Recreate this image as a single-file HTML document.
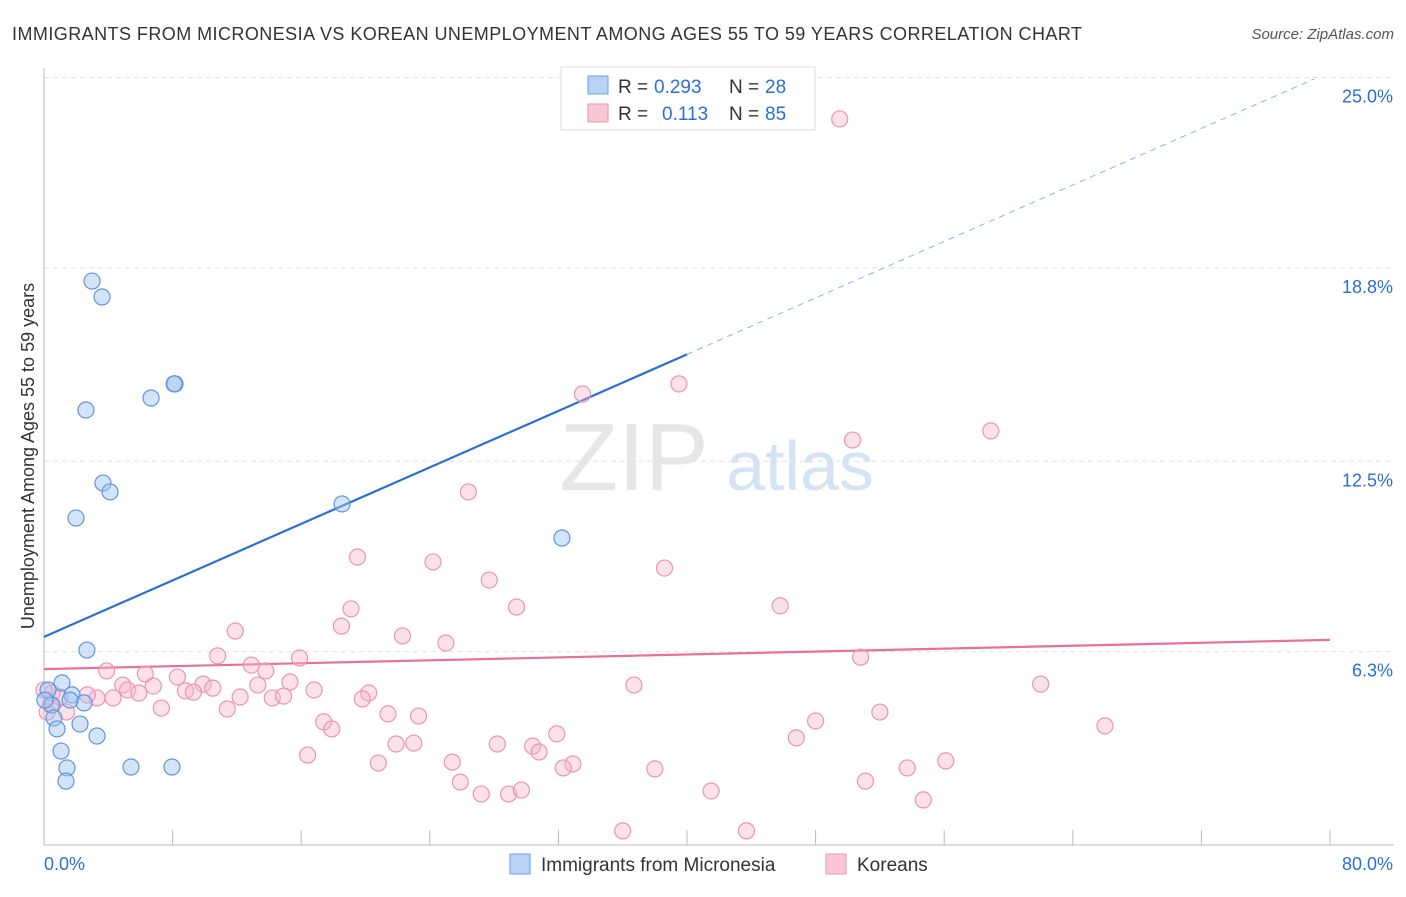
<!DOCTYPE html>
<html><head><meta charset="utf-8"><style>
body{margin:0;background:#fff;font-family:"Liberation Sans",sans-serif}
svg text{font-family:"Liberation Sans",sans-serif}
</style></head><body>
<svg id="chart" width="1406" height="892" xmlns="http://www.w3.org/2000/svg">
<text x="12" y="40" font-size="18" fill="#333" textLength="1070" lengthAdjust="spacing">IMMIGRANTS FROM MICRONESIA VS KOREAN UNEMPLOYMENT AMONG AGES 55 TO 59 YEARS CORRELATION CHART</text>
<text x="1394" y="39" font-size="15" fill="#555" font-style="italic" text-anchor="end">Source: ZipAtlas.com</text>
<text x="634" y="490" font-size="96" fill="#e6e6e6" font-family="Liberation Serif" text-anchor="middle">ZIP</text>
<text x="800" y="490" font-size="70" fill="#d5e3f5" text-anchor="middle">atlas</text>
<text transform="translate(34,456) rotate(-90)" font-size="18" fill="#333" text-anchor="middle">Unemployment Among Ages 55 to 59 years</text>
<g id="grid"></g><g id="axes"></g><g id="lines"></g><g id="pts"></g>
<g>
<rect x="561" y="67" width="254" height="63" fill="#fff" stroke="#ddd"/>
<rect x="588" y="76" width="20" height="18" fill="#b8d3f5" stroke="#6fa0e0"/>
<rect x="588" y="104" width="20" height="18" fill="#f9c6d6" stroke="#e895b3"/>
<text x="618" y="93" font-size="19" fill="#333">R =</text>
<text x="654" y="93" font-size="19" fill="#2a6fd6">0.293</text>
<text x="729" y="93" font-size="19" fill="#333">N =</text>
<text x="765" y="93" font-size="19" fill="#2a6fd6">28</text>
<text x="618" y="120" font-size="19" fill="#333">R =</text>
<text x="662" y="120" font-size="19" fill="#2a6fd6">0.113</text>
<text x="729" y="120" font-size="19" fill="#333">N =</text>
<text x="765" y="120" font-size="19" fill="#2a6fd6">85</text>
</g>
<g>
<rect x="510" y="854" width="20" height="20" fill="#b8d3f5" stroke="#6fa0e0"/>
<text x="541" y="871" font-size="19" fill="#333">Immigrants from Micronesia</text>
<rect x="826" y="854" width="20" height="20" fill="#f9c6d6" stroke="#e895b3"/>
<text x="857" y="871" font-size="19" fill="#333">Koreans</text>
</g>
</svg>
<script>
const blueX=[2.99,3.61,2.61,8.15,8.09,6.66,3.67,4.11,1.99,18.54,32.22,2.67,1.12,0.25,1.74,2.49,0.5,0.62,0.81,2.24,3.3,1.06,1.43,1.37,5.41,7.96,0.06,1.62];
const blueY=[18.37,17.85,14.17,15.02,15.02,14.56,11.79,11.5,10.65,11.11,10.0,6.35,5.28,5.05,4.89,4.63,4.56,4.14,3.78,3.94,3.55,3.06,2.51,2.08,2.54,2.54,4.72,4.72];
const pinkX=[49.5,33.5,39.5,50.3,58.9,26.4,19.5,24.2,38.6,27.7,19.1,29.4,45.8,18.5,11.9,22.3,25.0,10.8,15.9,50.8,3.9,6.3,12.9,13.8,8.3,9.9,10.5,15.3,13.3,4.9,5.2,6.8,8.8,9.3,5.9,36.7,62.0,16.8,20.2,19.8,12.2,14.2,14.9,4.3,3.3,2.7,1.0,0.5,0.4,1.4,7.3,11.4,21.4,23.3,52.0,17.4,17.9,48.0,66.0,31.9,46.8,21.9,23.0,30.4,28.2,30.8,16.4,25.4,20.8,32.9,32.3,38.0,53.7,56.1,25.9,51.1,27.2,28.9,29.7,41.5,54.7,36.0,43.7,0.0,0.2];
const pinkY=[23.65,14.69,15.02,13.19,13.49,11.5,9.38,9.22,9.02,8.63,7.69,7.75,7.79,7.13,6.97,6.81,6.58,6.16,6.09,6.12,5.67,5.57,5.86,5.67,5.47,5.24,5.11,5.31,5.21,5.21,5.05,5.18,5.02,4.98,4.95,5.21,5.24,5.05,4.95,4.76,4.82,4.79,4.85,4.79,4.79,4.89,4.82,4.95,4.56,4.33,4.46,4.43,4.27,4.2,4.33,4.01,3.78,4.04,3.88,3.62,3.49,3.29,3.32,3.22,3.29,3.03,2.93,2.7,2.67,2.64,2.51,2.48,2.51,2.74,2.05,2.08,1.66,1.66,1.79,1.76,1.47,0.46,0.46,5.05,4.33];
const yTicks=[25.0,18.8,12.5,6.3];
const xTicks=[0,8,16,24,32,40,48,56,64,72,80];
const blueTrend=[6.78,0.23];
const pinkTrend=[5.73,0.0119];
const X=v=>44+v*16.075, Y=v=>845-v*30.7;
const NS="http://www.w3.org/2000/svg";
function mk(p,tag,a){const e=document.createElementNS(NS,tag);for(const k in a)e.setAttribute(k,a[k]);document.getElementById(p).appendChild(e);return e;}
yTicks.forEach(t=>{
 const l=mk('grid','line',{x1:44,x2:1394,y1:Y(t),y2:Y(t),stroke:'#e2e2e2','stroke-dasharray':'5,4'});
 
 
 const tx=mk('grid','text',{x:1393,y:Y(t)+25,'font-size':18,fill:'#2a6fd6','text-anchor':'end'});
 tx.textContent=t.toFixed(1)+'%';
 
 
});
const ya=mk('axes','line',{x1:44,x2:44,y1:68,y2:845,stroke:'#bbb'});


const xa=mk('axes','line',{x1:44,x2:1394,y1:845,y2:845,stroke:'#bbb'});


xTicks.forEach(t=>{if(t===0)return;
 const l=mk('axes','line',{x1:X(t),x2:X(t),y1:830,y2:845,stroke:'#bbb'});
 
 
});
[[0,'0.0%','start',44],[80,'80.0%','end',1393]].forEach(d=>{
 const tx=mk('axes','text',{x:d[3],y:870,'font-size':18,fill:'#2a6fd6','text-anchor':d[2]});
 tx.textContent=d[1];
 
 
});
function pts(xs,ys,fill,stroke,name){xs.forEach((x,i)=>{
 const c=mk('pts','circle',{cx:X(x),cy:Y(ys[i]),r:8,fill:fill,stroke:stroke,'stroke-width':1.2});
 
 
});}
pts(pinkX,pinkY,'rgba(248,180,202,0.4)','#e895b3','korean-point');
pts(blueX,blueY,'rgba(160,195,240,0.45)','#5f95dc','micronesia-point');
const b1=mk('lines','line',{x1:X(0),y1:Y(blueTrend[0]),x2:X(40),y2:Y(blueTrend[0]+blueTrend[1]*40),stroke:'#2a6fd6','stroke-width':2.2});


const b2=mk('lines','line',{x1:X(40),y1:Y(blueTrend[0]+blueTrend[1]*40),x2:X(79),y2:Y(blueTrend[0]+blueTrend[1]*79),stroke:'#8fb3e6','stroke-width':1,'stroke-dasharray':'6,5'});


const p1=mk('lines','line',{x1:X(0),y1:Y(pinkTrend[0]),x2:X(80),y2:Y(pinkTrend[0]+pinkTrend[1]*80),stroke:'#e8719b','stroke-width':2.2});


</script>
</body></html>
